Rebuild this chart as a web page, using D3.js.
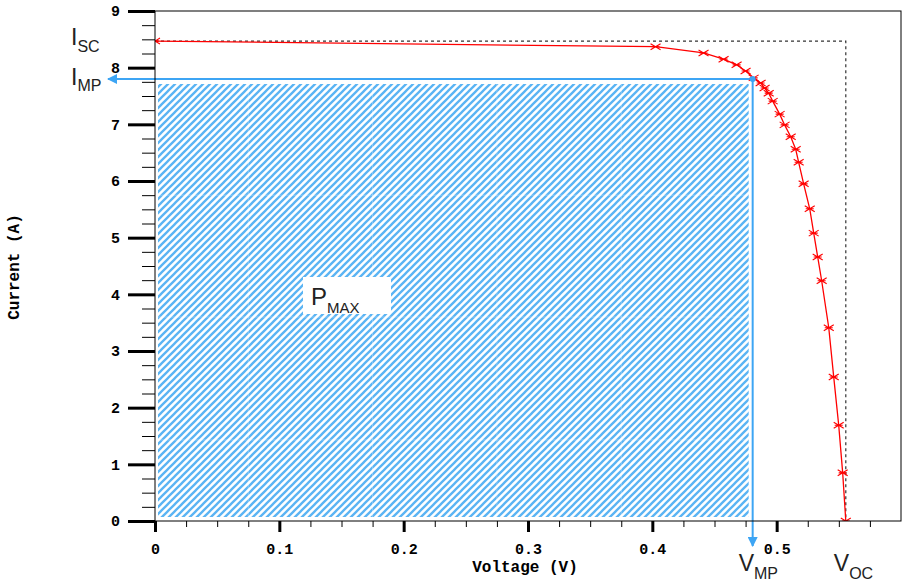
<!DOCTYPE html>
<html>
<head>
<meta charset="utf-8">
<script src="https://cdn.jsdelivr.net/npm/d3@7"></script>
<style>
  html, body { margin: 0; padding: 0; background: #fff; }
  svg { display: block; }
</style>
</head>
<body>
<script>
// ---- data ----
const voltage = [0, 0.4026, 0.4412, 0.4573, 0.4678, 0.4750, 0.4815, 0.4871, 0.4903, 0.4936,
                 0.4968, 0.5024, 0.5064, 0.5113, 0.5153, 0.5177, 0.5217, 0.5266, 0.5298, 0.5330,
                 0.5362, 0.5419, 0.5459, 0.5499, 0.5531, 0.5556];
const current = [8.47, 8.37, 8.26, 8.15, 8.05, 7.94, 7.82, 7.73, 7.64, 7.55,
                 7.41, 7.18, 6.99, 6.78, 6.56, 6.33, 5.95, 5.51, 5.08, 4.66,
                 4.24, 3.41, 2.54, 1.69, 0.85, 0];
const Isc = 8.47, Voc = 0.5556, Imp = 7.8, Vmp = 0.4807;
const xMajorTicks = [0, 0.1, 0.2, 0.3, 0.4, 0.5];
const yMajorTicks = [0, 1, 2, 3, 4, 5, 6, 7, 8, 9];
const xTitle = "Voltage (V)", yTitle = "Current (A)";

// ---- layout ----
const W = 904, H = 582;
const m = {left: 155, top: 11, right: 3, bottom: 61};
const svg = d3.select("body").append("svg").attr("width", W).attr("height", H);
const x = d3.scaleLinear().domain([0, 0.6]).range([m.left, W - m.right]);
const y = d3.scaleLinear().domain([0, 9]).range([H - m.bottom, m.top]);

const blue = "#3da5f4";
const defs = svg.append("defs");
const P = 7;
const pat = defs.append("pattern").attr("id", "hatch").attr("patternUnits", "userSpaceOnUse")
  .attr("width", P).attr("height", P);
pat.append("rect").attr("width", P).attr("height", P).attr("fill", "#fff");
pat.append("path").attr("d", `M-1,1 l2,-2 M0,${P} l${P},-${P} M${P - 1},${P + 1} l2,-2`)
  .attr("stroke", "#5ab4f4").attr("stroke-width", 2.3);
defs.append("clipPath").attr("id", "plotclip").append("rect")
  .attr("x", x(0)).attr("y", y(9)).attr("width", x(0.6) - x(0)).attr("height", y(0) - y(9));
const arrow = defs.append("marker").attr("id", "arrow").attr("viewBox", "0 0 10 10")
  .attr("refX", 9).attr("refY", 5).attr("markerWidth", 5).attr("markerHeight", 5)
  .attr("orient", "auto-start-reverse").attr("markerUnits", "strokeWidth");
arrow.append("path").attr("d", "M0,0 L10,5 L0,10 z").attr("fill", blue);

// ---- hatched P_MAX area ----
const hx0 = x(0) + 3, hx1 = x(Vmp) - 4, hy0 = y(Imp) + 5, hy1 = y(0) - 4;
svg.append("rect").attr("x", hx0).attr("y", hy0).attr("width", hx1 - hx0).attr("height", hy1 - hy0)
  .attr("fill", "url(#hatch)");
// faint tile seams
const seamV = [0.075, 0.175, 0.275, 0.375];
const seamI = [1.43, 3.6, 5.75];
svg.append("g").selectAll("line").data(seamV).join("line")
  .attr("x1", d => x(d)).attr("x2", d => x(d)).attr("y1", hy0).attr("y2", hy1)
  .attr("stroke", "#fff").attr("stroke-opacity", 0.3).attr("stroke-width", 1);
svg.append("g").selectAll("line").data(seamI).join("line")
  .attr("y1", d => y(d)).attr("y2", d => y(d)).attr("x1", hx0).attr("x2", hx1)
  .attr("stroke", "#fff").attr("stroke-opacity", 0.3).attr("stroke-width", 1);

// ---- dashed Isc / Voc guide ----
svg.append("path")
  .attr("d", `M${x(0)},${y(Isc)} H${x(Voc)} V${y(0)}`)
  .attr("fill", "none").attr("stroke", "#333").attr("stroke-width", 1.2)
  .attr("stroke-dasharray", "3,3");

// ---- blue MPP arrows ----
svg.append("line").attr("x1", x(Vmp)).attr("y1", y(Imp)).attr("x2", x(0) - 47).attr("y2", y(Imp))
  .attr("stroke", blue).attr("stroke-width", 2).attr("marker-end", "url(#arrow)");
svg.append("line").attr("x1", x(Vmp)).attr("y1", y(Imp)).attr("x2", x(Vmp)).attr("y2", y(0) + 25)
  .attr("stroke", blue).attr("stroke-width", 2).attr("marker-end", "url(#arrow)");

// ---- I-V curve ----
const pts = voltage.map((v, i) => [v, current[i]]);
const g = svg.append("g").attr("clip-path", "url(#plotclip)");
g.append("path").datum(pts)
  .attr("d", d3.line().x(d => x(d[0])).y(d => y(d[1])))
  .attr("fill", "none").attr("stroke", "#ff0000").attr("stroke-width", 1.3);
g.selectAll("path.mk").data(pts).join("path").attr("class", "mk")
  .attr("transform", d => `translate(${x(d[0])},${y(d[1])})`)
  .attr("d", "M-5,-3 L5,3 M-5,3 L5,-3 M-4,0 H4")
  .attr("stroke", "#ff0000").attr("stroke-width", 1.1).attr("fill", "none");
svg.append("circle").attr("cx", x(Vmp)).attr("cy", y(Imp)).attr("r", 3).attr("fill", blue);

// ---- frame ----
svg.append("rect").attr("x", x(0)).attr("y", y(9)).attr("width", x(0.6) - x(0)).attr("height", y(0) - y(9))
  .attr("fill", "none").attr("stroke", "#000").attr("stroke-width", 1);

// ---- axes ----
const tickFont = "bold 15px 'Liberation Mono', 'DejaVu Sans Mono', monospace";
function styleAxis(sel, w) {
  sel.select(".domain").remove();
  sel.selectAll(".tick line").attr("stroke", "#000").attr("stroke-width", w);
  sel.selectAll(".tick text").style("font", tickFont).attr("fill", "#000");
}
// y axis
const yMinor = d3.range(0, 9.001, 0.25).filter(v => Math.abs(v - Math.round(v)) > 1e-6);
svg.append("g").attr("transform", `translate(${x(0)},0)`)
  .call(d3.axisLeft(y).tickValues(yMinor).tickSize(13).tickFormat(""))
  .call(s => styleAxis(s, 1));
svg.append("g").attr("transform", `translate(${x(0)},0)`)
  .call(d3.axisLeft(y).tickValues(yMajorTicks).tickSize(27).tickPadding(8).tickFormat(d3.format("d")))
  .call(s => styleAxis(s, 3));
// x axis
const xMinor = d3.range(0, 0.6001, 0.025).filter(v => Math.abs(v * 10 - Math.round(v * 10)) > 1e-6);
svg.append("g").attr("transform", `translate(0,${y(0)})`)
  .call(d3.axisBottom(x).tickValues(xMinor).tickSize(6).tickFormat(""))
  .call(s => styleAxis(s, 1));
svg.append("g").attr("transform", `translate(0,${y(0)})`)
  .call(d3.axisBottom(x).tickValues(xMajorTicks).tickSize(11).tickPadding(11)
    .tickFormat(d => d === 0 ? "0" : d3.format(".1f")(d)))
  .call(s => styleAxis(s, 3));

// axis titles
svg.append("text").attr("x", 525).attr("y", 572).attr("text-anchor", "middle")
  .style("font", "bold 16px 'Liberation Mono', monospace").text(xTitle);
svg.append("text").attr("transform", "translate(19,267) rotate(-90)").attr("text-anchor", "middle")
  .style("font", "bold 16px 'Liberation Mono', monospace").text(yTitle);

// ---- annotations ----
function subLabel(px, py, main, sub, big, small, drop) {
  const t = svg.append("text").attr("x", px).attr("y", py)
    .style("font-family", "'Liberation Sans', Arial, sans-serif").attr("fill", "#222");
  t.append("tspan").style("font-size", big + "px").text(main);
  t.append("tspan").attr("dy", drop).style("font-size", small + "px").text(sub);
  return t;
}
subLabel(x(0) - 84, y(Isc) + 4, "I", "SC", 23, 16, 7);
subLabel(x(0) - 84, y(Imp) + 6, "I", "MP", 23, 16, 6);
subLabel(x(Vmp) - 14, y(0) + 50, "V", "MP", 23, 16, 8);
subLabel(x(Voc) - 12, y(0) + 50, "V", "OC", 23, 16, 8);
// P_MAX box
svg.append("rect").attr("x", 303).attr("y", 277).attr("width", 88).attr("height", 37).attr("fill", "#fff");
subLabel(311, 305, "P", "MAX", 24, 15, 8);
</script>
</body>
</html>
